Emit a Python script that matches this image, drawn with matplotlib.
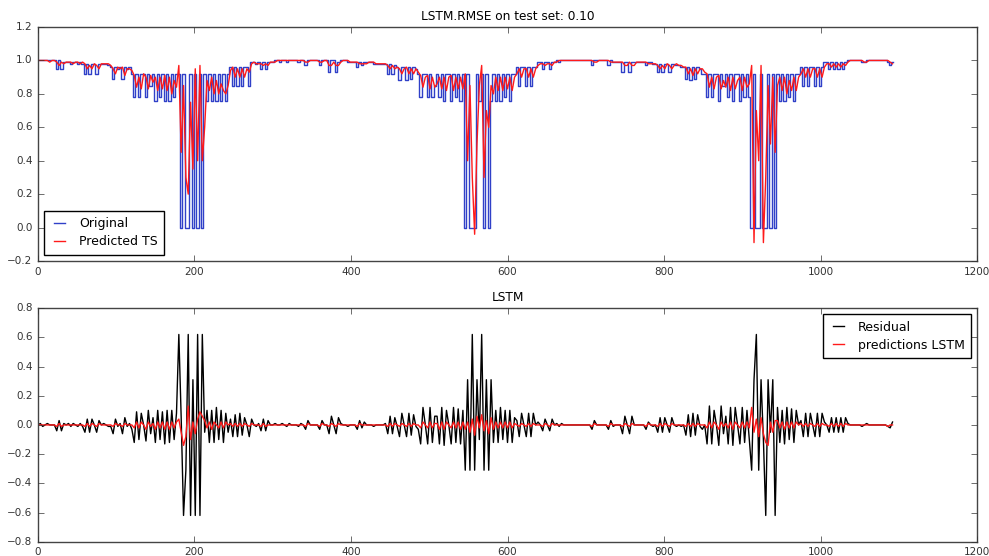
import numpy as np
import matplotlib
matplotlib.use("Agg")
import matplotlib.pyplot as plt

STEP = 3  # sample spacing (x units) used when reading values off the picture

original = [
    1.0,1.0,1.0,1.0,1.0,1.0,1.0,1.0,
    0.95,1.0,0.95,0.99,
    0.99,0.99,0.98,0.99,0.99,0.98,0.99,0.98,
    0.92,0.98,0.92,0.98,
    0.98,0.92,0.98,0.98,0.98,0.98,0.97,
    0.96,0.89,0.96,0.95,0.96,0.89,0.96,0.95,0.96,
    0.92,0.78,0.92,0.78,0.92,0.92,0.78,0.92,0.85,0.92,0.76,0.92,0.78,0.92,0.76,0.92,0.76,0.92,0.78,0.92,
    0.92,0.0,0.92,0.0,0.0,0.92,0.0,0.92,0.0,0.92,0.0,
    0.92,0.76,0.92,0.76,0.92,0.76,0.92,0.76,0.92,0.76,0.92,
    0.96,0.85,0.96,0.85,0.96,0.85,0.96,0.96,0.85,
    0.99,0.99,0.98,0.99,0.95,0.99,0.95,0.99,0.99,0.99,1.0,1.0,
    0.99,1.0,1.0,0.99,1.0,1.0,1.0,1.0,0.99,1.0,1.0,0.97,1.0,1.0,1.0,1.0,1.0,0.97,1.0,1.0,
    1.0,0.93,1.0,1.0,0.93,0.99,1.0,1.0,1.0,0.99,0.99,0.99,0.99,0.96,0.99,0.97,0.99,0.99,0.99,0.99,
    0.98,0.98,0.98,0.98,0.98,
    0.98,0.92,0.98,0.92,0.97,
    0.96,0.88,0.96,0.96,0.88,0.96,0.89,0.96,0.95,
    0.92,0.78,0.92,0.92,0.78,0.92,0.78,0.85,0.92,0.78,0.92,0.76,0.92,0.92,0.76,0.92,0.78,0.92,0.76,0.92,
    0.0,0.92,0.0,0.0,0.0,0.92,0.76,0.92,0.0,0.92,0.0,0.76,
    0.92,0.76,0.92,0.76,0.92,0.78,0.92,0.76,0.92,0.92,
    0.96,0.85,0.96,0.96,0.85,0.96,0.85,0.96,0.96,
    0.99,0.99,0.95,0.99,0.99,0.95,0.99,
    0.99,1.0,0.99,1.0,1.0,1.0,1.0,1.0,1.0,1.0,1.0,1.0,1.0,1.0,1.0,1.0,0.97,1.0,1.0,1.0,
    1.0,1.0,1.0,0.97,1.0,0.99,0.99,0.99,0.99,0.93,0.99,0.99,0.93,0.99,0.99,0.99,0.99,0.99,0.99,0.97,
    0.99,0.99,
    0.98,0.98,0.93,0.98,0.93,0.98,0.98,0.93,0.98,0.98,0.97,0.97,0.96,
    0.96,0.89,0.96,0.88,0.96,0.89,0.96,0.95,0.92,
    0.92,0.78,0.92,0.78,0.92,0.92,0.76,0.92,0.85,0.92,0.78,0.92,0.76,0.92,0.92,0.76,0.92,0.78,0.92,0.78,
    0.0,0.92,0.0,0.0,0.92,0.0,0.0,0.92,0.0,0.92,0.0,
    0.92,0.76,0.92,0.76,0.92,0.78,0.92,0.76,0.92,0.92,
    0.96,0.85,0.96,0.85,0.96,0.96,0.85,0.96,0.85,0.96,
    0.99,0.99,0.95,0.99,0.95,0.99,0.95,0.99,0.95,0.99,1.0,
    1.0,1.0,1.0,1.0,1.0,0.99,0.99,1.0,1.0,1.0,1.0,1.0,1.0,1.0,1.0,1.0,0.99,0.97,0.99,
]

predicted = [
    1.0,1.0,1.0,1.0,1.0,0.99,1.0,1.0,
    0.99,0.97,0.99,0.98,
    0.99,0.99,0.99,0.98,0.99,0.99,0.98,0.99,
    0.98,0.95,0.97,0.95,
    0.98,0.97,0.95,0.98,0.98,0.98,0.98,
    0.97,0.95,0.92,0.96,0.95,0.96,0.91,0.95,0.95,
    0.94,0.91,0.84,0.9,0.83,0.92,0.9,0.83,0.91,0.87,0.9,0.82,0.9,0.83,0.91,0.82,0.9,0.8,0.88,0.84,
    0.97,0.45,0.85,0.3,0.2,0.75,0.35,0.95,0.4,0.97,0.4,
    0.6,0.88,0.82,0.9,0.8,0.88,0.8,0.86,0.82,0.8,0.85,
    0.94,0.96,0.9,0.95,0.9,0.95,0.9,0.95,0.93,
    0.98,0.99,0.98,0.98,0.98,0.97,0.98,0.97,0.99,0.99,0.99,1.0,
    1.0,1.0,1.0,1.0,1.0,1.0,1.0,1.0,1.0,1.0,1.0,0.99,0.99,1.0,1.0,1.0,1.0,0.99,0.99,1.0,
    1.0,0.97,0.97,0.99,0.97,0.97,0.99,1.0,1.0,1.0,0.99,0.99,0.99,0.99,0.98,0.98,0.98,0.98,0.99,0.99,
    0.99,0.98,0.98,0.98,0.98,
    0.98,0.97,0.95,0.97,0.95,
    0.96,0.95,0.92,0.95,0.96,0.92,0.95,0.92,0.95,
    0.93,0.91,0.84,0.9,0.91,0.83,0.9,0.84,0.86,0.9,0.83,0.9,0.82,0.9,0.91,0.82,0.9,0.83,0.9,0.83,
    0.92,0.4,0.85,0.3,-0.04,0.5,0.85,0.97,0.3,0.7,0.6,0.85,
    0.8,0.9,0.82,0.9,0.82,0.9,0.83,0.9,0.82,0.9,
    0.92,0.95,0.9,0.95,0.95,0.9,0.95,0.9,0.95,
    0.97,0.98,0.98,0.97,0.98,0.98,0.97,
    0.99,0.99,1.0,1.0,1.0,1.0,1.0,1.0,1.0,1.0,1.0,1.0,1.0,1.0,1.0,1.0,1.0,0.99,0.99,1.0,
    1.0,1.0,1.0,1.0,0.99,0.99,0.99,0.99,0.99,0.99,0.97,0.97,0.99,0.97,0.97,0.99,0.99,0.99,0.99,0.99,
    0.98,0.98,
    0.98,0.98,0.97,0.95,0.97,0.95,0.98,0.97,0.95,0.97,0.98,0.97,0.97,
    0.96,0.96,0.92,0.95,0.91,0.95,0.92,0.95,0.95,
    0.93,0.92,0.84,0.9,0.83,0.9,0.91,0.83,0.88,0.84,0.9,0.82,0.9,0.83,0.88,0.9,0.82,0.9,0.84,0.86,
    0.97,-0.09,0.7,0.4,0.97,-0.09,0.3,0.85,0.5,0.9,0.45,
    0.85,0.9,0.82,0.9,0.8,0.88,0.82,0.9,0.82,0.9,
    0.92,0.95,0.9,0.95,0.9,0.95,0.95,0.9,0.95,0.9,
    0.96,0.98,0.98,0.96,0.98,0.96,0.98,0.96,0.98,0.97,0.99,
    1.0,1.0,1.0,1.0,1.0,1.0,0.99,0.99,1.0,1.0,1.0,1.0,1.0,1.0,1.0,1.0,1.0,0.99,0.98,
]

residual = [
    0.0,0.01,-0.01,0.0,0.01,0.0,0.0,0.0,
    -0.04,0.03,-0.04,0.01,
    0.0,0.01,-0.01,0.01,0.0,-0.01,0.01,-0.01,
    -0.05,0.04,-0.05,0.04,
    0.0,-0.05,0.03,0.0,0.01,0.0,-0.01,
    -0.01,-0.06,0.04,-0.01,0.01,-0.06,0.05,-0.01,0.01,
    -0.03,-0.12,0.09,-0.1,0.08,0.0,-0.11,0.1,-0.06,0.05,-0.12,0.1,-0.1,0.09,-0.13,0.1,-0.12,0.1,-0.1,0.08,
    0.62,0.05,-0.62,-0.31,0.62,-0.62,0.31,-0.62,0.62,-0.62,0.62,
    -0.05,0.1,-0.12,0.1,-0.12,0.12,-0.1,0.1,-0.12,0.08,-0.05,
    0.04,-0.08,0.07,-0.08,0.08,-0.07,0.05,0.0,-0.08,
    0.04,0.0,-0.01,0.01,-0.04,0.04,-0.04,0.03,0.0,0.0,0.01,0.0,
    0.0,0.01,0.0,-0.01,0.01,0.0,0.0,0.0,-0.01,0.01,0.0,-0.03,0.03,0.0,0.0,0.0,0.0,-0.03,0.03,0.0,
    0.0,-0.06,0.06,0.0,-0.06,0.05,0.01,0.0,0.0,-0.01,0.0,0.0,0.0,-0.03,0.03,-0.02,0.02,0.0,0.0,0.0,
    -0.01,0.0,0.0,0.0,0.0,
    0.01,-0.06,0.06,-0.06,0.05,
    -0.01,-0.08,0.08,0.0,-0.08,0.08,-0.07,0.07,-0.01,
    -0.03,-0.13,0.12,0.0,-0.13,0.12,-0.12,0.06,0.06,-0.13,0.12,-0.14,0.1,0.0,-0.13,0.12,-0.12,0.11,-0.13,0.1,
    -0.31,0.31,-0.31,0.62,-0.31,0.31,-0.1,0.62,-0.31,0.31,-0.31,0.31,
    -0.12,0.1,-0.12,0.12,-0.1,0.1,-0.12,0.1,-0.12,0.05,
    0.03,-0.08,0.08,0.0,-0.08,0.08,-0.08,0.08,0.0,
    0.02,0.0,-0.04,0.04,0.0,-0.04,0.04,
    0.0,0.01,-0.01,0.01,0.0,0.0,0.0,0.0,0.0,0.0,0.0,0.0,0.0,0.0,0.0,0.0,-0.03,0.03,0.0,0.0,
    0.0,0.0,0.0,-0.03,0.03,-0.01,0.0,0.0,0.0,-0.06,0.06,0.0,-0.06,0.06,0.0,0.0,0.0,0.0,0.0,-0.03,
    0.02,0.0,
    -0.01,0.0,-0.05,0.05,-0.05,0.05,0.0,-0.05,0.05,0.0,-0.01,0.0,-0.01,
    0.0,-0.07,0.07,-0.08,0.08,-0.07,0.07,-0.01,-0.03,
    0.0,-0.13,0.13,-0.13,0.1,0.0,-0.14,0.13,-0.06,0.06,-0.13,0.12,-0.14,0.12,0.0,-0.13,0.12,-0.12,0.1,-0.1,
    -0.31,0.31,0.62,-0.31,0.31,-0.1,-0.62,0.31,-0.05,0.31,-0.62,
    0.12,-0.12,0.1,-0.13,0.12,-0.1,0.11,-0.12,0.1,0.0,
    0.03,-0.08,0.08,-0.08,0.08,0.0,-0.08,0.08,-0.08,0.08,
    0.02,0.0,-0.05,0.05,-0.05,0.05,-0.05,0.05,-0.05,0.05,0.01,
    0.0,0.0,0.0,0.0,0.0,-0.01,0.0,0.01,0.0,0.0,0.0,0.0,0.0,0.0,0.0,0.0,-0.01,-0.02,0.02,
]

pred_lstm = [
    0.0,0.0,0.0,0.0,0.0,0.0,0.0,0.0,
    -0.01,0.01,-0.01,0.0,
    0.0,0.0,0.0,0.0,0.0,0.0,0.0,0.0,
    -0.01,0.01,-0.01,0.01,
    0.0,-0.01,0.01,0.0,0.0,0.0,0.0,
    0.0,-0.01,0.01,0.0,0.0,-0.01,0.01,0.0,0.0,
    0.0,-0.02,0.02,-0.02,0.02,0.0,-0.03,0.02,-0.01,0.01,-0.03,0.02,-0.02,0.02,-0.03,0.02,-0.03,0.02,-0.02,0.02,
    0.04,-0.05,-0.14,-0.08,0.13,-0.1,0.02,-0.06,0.04,0.09,0.06,
    0.03,-0.02,0.02,-0.03,0.02,0.0,-0.02,0.02,-0.02,0.02,0.0,
    0.01,-0.01,0.01,-0.01,0.01,-0.01,0.01,0.0,-0.01,
    0.01,0.0,0.0,0.0,-0.01,0.01,-0.01,0.0,0.0,0.0,0.0,0.0,
    0.0,0.0,0.0,0.0,0.0,0.0,0.0,0.0,0.0,0.0,0.0,-0.01,0.01,0.0,0.0,0.0,0.0,-0.01,0.01,0.0,
    0.0,-0.01,0.01,0.0,-0.01,0.01,0.0,0.0,0.0,0.0,0.0,0.0,0.0,-0.01,0.01,0.0,0.0,0.0,0.0,0.0,
    0.0,0.0,0.0,0.0,0.0,
    0.0,-0.01,0.01,-0.01,0.01,
    0.0,-0.01,0.01,0.0,-0.01,0.01,-0.01,0.01,0.0,
    0.0,-0.02,0.02,0.0,-0.02,0.02,-0.02,0.01,0.01,-0.03,0.02,-0.03,0.02,0.0,-0.02,0.02,-0.02,0.02,-0.03,0.02,
    -0.03,0.02,-0.05,0.04,-0.07,0.06,-0.02,0.07,-0.04,0.03,-0.06,0.05,
    -0.03,0.02,-0.02,0.02,-0.02,0.02,-0.02,0.02,-0.02,0.01,
    0.0,-0.01,0.01,0.0,-0.01,0.01,-0.01,0.01,0.0,
    0.0,0.0,-0.01,0.01,0.0,-0.01,0.01,
    0.0,0.0,0.0,0.0,0.0,0.0,0.0,0.0,0.0,0.0,0.0,0.0,0.0,0.0,0.0,0.0,-0.01,0.01,0.0,0.0,
    0.0,0.0,0.0,-0.01,0.01,0.0,0.0,0.0,0.0,-0.01,0.01,0.0,-0.01,0.01,0.0,0.0,0.0,0.0,0.0,-0.01,
    0.01,0.0,
    0.0,0.0,-0.01,0.01,-0.01,0.01,0.0,-0.01,0.01,0.0,0.0,0.0,0.0,
    0.0,-0.01,0.01,-0.01,0.01,-0.01,0.01,0.0,0.0,
    0.0,-0.02,0.02,-0.02,0.02,0.0,-0.03,0.02,-0.01,0.01,-0.02,0.02,-0.03,0.02,0.0,-0.02,0.02,-0.02,0.02,-0.02,
    0.12,-0.05,0.04,-0.08,0.05,-0.06,-0.12,-0.14,0.02,-0.05,0.03,
    0.03,-0.02,0.02,-0.03,0.02,-0.02,0.02,-0.02,0.02,0.0,
    0.01,-0.01,0.01,-0.01,0.01,0.0,-0.01,0.01,-0.01,0.01,
    0.0,0.0,-0.01,0.01,-0.01,0.01,-0.01,0.01,-0.01,0.01,0.0,
    0.0,0.0,0.0,0.0,0.0,0.0,0.0,0.0,0.0,0.0,0.0,0.0,0.0,0.0,0.0,0.0,-0.01,0.0,0.0,
]

top_title = "LSTM.RMSE on test set: 0.10"
bottom_title = "LSTM"
x_ticks = [0, 200, 400, 600, 800, 1000, 1200]
top_yticks = [-0.2, 0.0, 0.2, 0.4, 0.6, 0.8, 1.0, 1.2]
bottom_yticks = [-0.8, -0.6, -0.4, -0.2, 0.0, 0.2, 0.4, 0.6, 0.8]


def xs(series):
    return np.arange(len(series)) * STEP


plt.style.use("classic")
plt.rcParams["font.family"] = "DejaVu Sans"
fig = plt.figure(figsize=(9.89, 5.56), dpi=100, facecolor="white")

ax1 = fig.add_axes([0.0384, 0.5306, 0.9495, 0.4208])
ax2 = fig.add_axes([0.0384, 0.0257, 0.9495, 0.4200])

ax1.plot(xs(original), original, color="#3040c8", lw=1.0, drawstyle="steps-mid",
         label="Original")
ax1.plot(xs(predicted), predicted, color="#ff1a1a", lw=1.0, label="Predicted TS")
ax1.set_xlim(0, 1200)
ax1.set_ylim(-0.2, 1.2)
ax1.set_xticks(x_ticks)
ax1.set_yticks(top_yticks)
ax1.set_yticklabels(["\u22120.2" if v < 0 else f"{v:.1f}" for v in top_yticks])
ax1.set_title(top_title, fontsize=8.7, pad=5)
ax1.legend(loc="lower left", fontsize=9, handlelength=1.5, borderpad=0.5,
           labelspacing=0.4, handletextpad=0.8)

ax2.plot(xs(residual), residual, color="black", lw=1.0, label="Residual")
ax2.plot(xs(pred_lstm), pred_lstm, color="#ff1a1a", lw=1.0, label="predictions LSTM")
ax2.set_xlim(0, 1200)
ax2.set_ylim(-0.8, 0.8)
ax2.set_xticks(x_ticks)
ax2.set_yticks(bottom_yticks)
ax2.set_title(bottom_title, fontsize=8.7, pad=5)
ax2.legend(loc="upper right", fontsize=9, handlelength=1.5, borderpad=0.5,
           labelspacing=0.4, handletextpad=0.8)

for ax in (ax1, ax2):
    ax.tick_params(labelsize=7.5, colors="#333333", length=4)
    for s in ax.spines.values():
        s.set_color("#444444")

fig.savefig("out.png", dpi=100, facecolor="white")
